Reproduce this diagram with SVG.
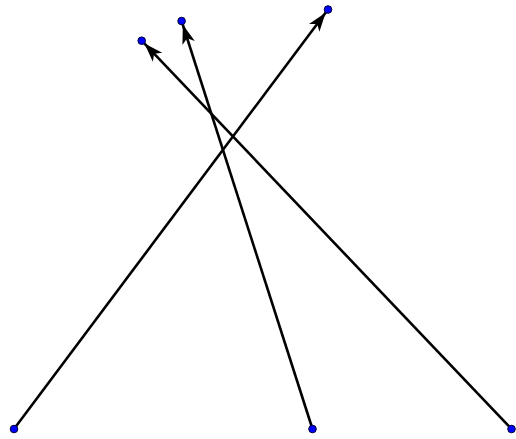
<svg xmlns="http://www.w3.org/2000/svg" width="516" height="439" viewBox="0 0 516 439">
<defs>
<marker id="ah" markerWidth="26" markerHeight="14" refX="23" refY="6.5" orient="auto" markerUnits="userSpaceOnUse" overflow="visible">
<path d="M0,0 L19,6.5 L0,13 L5,6.5 Z" fill="#000"/>
</marker>
<style>
.c{stroke:#000;stroke-width:2.6;fill:none;marker-end:url(#ah)}
.p{fill:#0000ff;stroke:#000033;stroke-width:1}
</style>
</defs>
<rect width="516" height="439" fill="#fff"/>
<g id="connectors">
<line class="c" x1="14" y1="429" x2="328" y2="9.5"/>
<line class="c" x1="312.5" y1="429" x2="181.6" y2="21"/>
<line class="c" x1="511.5" y1="429" x2="141.7" y2="40.7"/>
</g>
<g id="A"><circle class="p" cx="14" cy="429" r="3.8"/></g>
<g id="B"><circle class="p" cx="328" cy="9.5" r="3.8"/></g>
<g id="C"><circle class="p" cx="312.5" cy="429" r="3.8"/></g>
<g id="D"><circle class="p" cx="181.6" cy="21" r="3.8"/></g>
<g id="E"><circle class="p" cx="511.5" cy="429" r="3.8"/></g>
<g id="F"><circle class="p" cx="141.7" cy="40.7" r="3.8"/></g>
</svg>
